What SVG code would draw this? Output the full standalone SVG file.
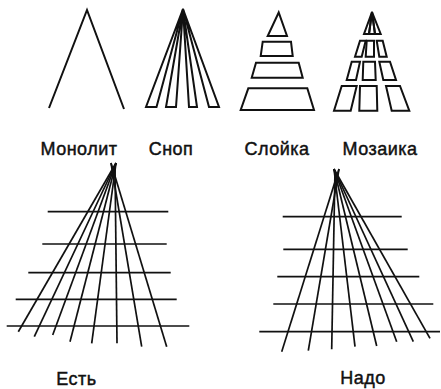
<svg xmlns="http://www.w3.org/2000/svg" width="441" height="389" viewBox="0 0 441 389">
<style>
.s{fill:none;stroke:#111;stroke-width:2;stroke-linejoin:miter}
.f{fill:none;stroke:#111;stroke-width:1.7;stroke-linecap:butt}
.t{font-family:"Liberation Sans",Arial,sans-serif;font-size:18px;letter-spacing:0.5px;fill:#111;stroke:#111;stroke-width:0.45}
</style>
<rect width="441" height="389" fill="#fff"/>
<g id="monolit">
<polyline class="s" points="49,108 87,10 124,109"/>
<text class="t" x="79" y="155" text-anchor="middle">Монолит</text>
</g>
<g id="snop">
<polygon class="s" points="183,9 146,107 156.5,107"/>
<polygon class="s" points="183,9 166,107 176,107"/>
<polygon class="s" points="183,9 189,107 197,107"/>
<polygon class="s" points="183,9 209,107 219,107"/>
<text class="t" x="171" y="155" text-anchor="middle">Сноп</text>
</g>
<g id="sloyka">
<polygon class="s" points="278.7,12.5 267.7,36 287,36"/>
<polygon class="s" points="262.7,41.7 291,41.7 292.7,56 260.7,56"/>
<polygon class="s" points="256,62.7 298.7,62.7 302.7,77.7 251.7,77.7"/>
<polygon class="s" points="248.3,88.3 307.3,88.3 314,110 240.7,110"/>
<text class="t" x="277" y="155" text-anchor="middle">Слойка</text>
</g>
<g id="mozaika">
<polygon class="s" points="372,12 364,34 369,34"/>
<polygon class="s" points="372,12 369,34 375,34"/>
<polygon class="s" points="372,12 375,34 380.7,34"/>
<polygon class="s" points="360,40.7 365.7,40.7 361.7,56.7 355,56.7"/>
<polygon class="s" points="366.7,40.7 374,40.7 374,56.7 365.7,56.7"/>
<polygon class="s" points="376.7,40.7 382.7,40.7 386.7,56.7 379.3,56.7"/>
<polygon class="s" points="351.7,61.7 360,61.7 356,80 346.7,80"/>
<polygon class="s" points="363.3,61.7 375,61.7 375.7,80 362.7,80"/>
<polygon class="s" points="379.3,61.7 390,61.7 396,80 383.3,80"/>
<polygon class="s" points="341.7,86 356.7,86 350.7,110.7 334,110.7"/>
<polygon class="s" points="360,86 376.7,86 377.3,110.7 359.3,110.7"/>
<polygon class="s" points="386,86 400,86 409.3,110.7 391.7,110.7"/>
<text class="t" x="380" y="155" text-anchor="middle">Мозаика</text>
</g>
<g id="est">
<g class="f">
<line x1="47.7" y1="211.7" x2="168.3" y2="211.7"/>
<line x1="42.3" y1="244" x2="166.7" y2="244"/>
<line x1="28.3" y1="272.7" x2="170.7" y2="272.7"/>
<line x1="15.7" y1="299.3" x2="176.7" y2="299.3"/>
<line x1="6.7" y1="326" x2="189.3" y2="326"/>
<line x1="116" y1="163" x2="18.3" y2="331.7"/>
<line x1="116" y1="163" x2="34.3" y2="336.7"/>
<line x1="116" y1="163" x2="52.7" y2="335"/>
<line x1="116" y1="163" x2="70" y2="341.7"/>
<line x1="116" y1="163" x2="91.7" y2="343.3"/>
<line x1="115" y1="165" x2="117" y2="343.3"/>
<line x1="111" y1="163" x2="141.7" y2="346.7"/>
<line x1="111" y1="163" x2="166.7" y2="346.7"/>
</g>
<text class="t" x="76.5" y="385" text-anchor="middle">Есть</text>
</g>
<g id="nado">
<g class="f">
<line x1="282.7" y1="216.7" x2="401.7" y2="216.7"/>
<line x1="283.3" y1="249.3" x2="407.7" y2="249.3"/>
<line x1="277.3" y1="276.7" x2="419.3" y2="276.7"/>
<line x1="273.3" y1="304" x2="433.3" y2="304"/>
<line x1="259.3" y1="331.7" x2="440" y2="331.7"/>
<line x1="339" y1="169" x2="281.7" y2="351.7"/>
<line x1="339" y1="169" x2="308.3" y2="350.7"/>
<line x1="335" y1="170" x2="331.7" y2="349.3"/>
<line x1="334" y1="169" x2="355" y2="346.7"/>
<line x1="334" y1="169" x2="376.7" y2="346"/>
<line x1="334" y1="169" x2="396.7" y2="341.7"/>
<line x1="334" y1="169" x2="413.3" y2="341.7"/>
<line x1="334" y1="169" x2="430" y2="338.3"/>
</g>
<text class="t" x="363" y="384" text-anchor="middle">Надо</text>
</g>
</svg>
